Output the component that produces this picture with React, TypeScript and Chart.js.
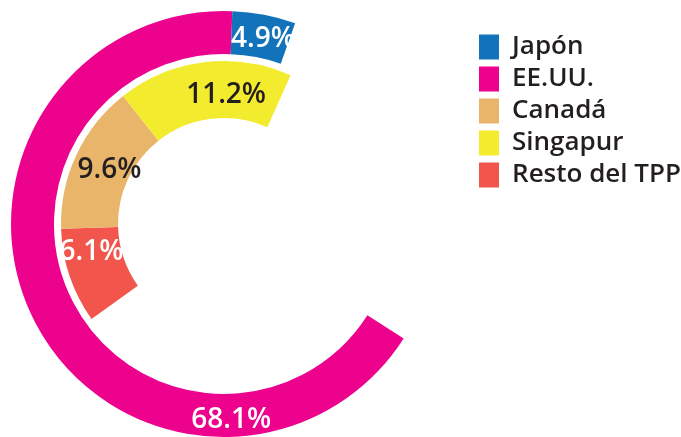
import React, { useEffect, useRef } from "react";
import { Chart, registerables } from "chart.js";

Chart.register(...registerables);

// Data (slice order follows the drawing order of each ring)
const categories = ["EE.UU.", "Japón", "Resto del TPP", "Canadá", "Singapur"];
const outerValues = [68.1, 4.9, 0, 0, 0];
const innerValues = [0, 0, 6.1, 9.6, 11.2];
const legendOrder = ["Japón", "EE.UU.", "Canadá", "Singapur", "Resto del TPP"];

// Styles
const sliceColors = ["#EC028C", "#1273BA", "#F1554B", "#E9B56B", "#F3EB2E"];
const valueTextColors = ["#FFFFFF", "#FFFFFF", "#FFFFFF", "#231F20", "#231F20"];
const valueFrac = [0.231, 0.55, 0.72, 0.52, 0.628];
const valueRadialShift = [3, 0, 0.6, -7, -3];
const FONT = "'Open Sans', Roboto, sans-serif";

const valueLabelPlugin = {
  id: "valueLabels",
  afterDatasetsDraw(chart: any) {
    const ctx = chart.ctx;
    ctx.save();
    ctx.font = `600 28px ${FONT}`;
    ctx.textAlign = "center";
    ctx.textBaseline = "alphabetic";
    chart.data.datasets.forEach((ds: any, di: number) => {
      if (!ds.showValues) return;
      const meta = chart.getDatasetMeta(di);
      meta.data.forEach((arc: any, i: number) => {
        const v = ds.data[i];
        if (!v) return;
        const p = arc.getProps(["x", "y", "startAngle", "endAngle", "innerRadius", "outerRadius"], true);
        const a = p.startAngle + valueFrac[i] * (p.endAngle - p.startAngle);
        const r = (p.innerRadius + p.outerRadius) / 2 + valueRadialShift[i];
        ctx.fillStyle = valueTextColors[i];
        ctx.fillText(v.toFixed(1) + "%", p.x + r * Math.cos(a), p.y + r * Math.sin(a) + 10);
      });
    });
    ctx.restore();
  },
};

export default function App() {
  const canvasRef = useRef<HTMLCanvasElement | null>(null);

  useEffect(() => {
    if (!canvasRef.current) return;
    const chart = new Chart(canvasRef.current, {
      type: "doughnut",
      data: {
        labels: categories,
        datasets: [
          {
            label: "Exterior",
            data: outerValues,
            backgroundColor: sliceColors,
            borderWidth: 0,
            weight: 43,
            rotation: 122.5,
            circumference: 257,
            showValues: true,
          } as any,
          {
            label: "spacer",
            data: [0, 0, 0, 0, 0],
            backgroundColor: "rgba(0,0,0,0)",
            borderWidth: 0,
            weight: 7,
          } as any,
          {
            label: "Interior",
            data: innerValues,
            backgroundColor: sliceColors,
            borderWidth: 0,
            weight: 57,
            rotation: -125.6,
            circumference: 149.7,
            showValues: true,
          } as any,
        ],
      },
      options: {
        animation: false,
        responsive: true,
        maintainAspectRatio: false,
        events: [],
        cutout: 106,
        layout: { padding: { left: 0, top: 11, right: 0, bottom: 0 } },
        plugins: {
          tooltip: { enabled: false },
          legend: {
            position: "right",
            align: "start",
            title: { display: true, text: "", font: { size: 10, lineHeight: 1.2 }, padding: { top: 5, bottom: 0 } },
            labels: {
              boxWidth: 20,
              boxHeight: 25,
              padding: 6,
              color: "#231F20",
              font: { family: FONT, size: 26, weight: 600 },
              generateLabels: () =>
                legendOrder.map((name) => {
                  const idx = categories.indexOf(name);
                  return {
                    text: name,
                    fillStyle: sliceColors[idx],
                    strokeStyle: sliceColors[idx],
                    lineWidth: 0,
                    hidden: false,
                    index: idx,
                    fontColor: "#231F20",
                  };
                }),
            },
          },
        },
      } as any,
      plugins: [valueLabelPlugin],
    });
    return () => chart.destroy();
  }, []);

  return (
    <div style={{ position: "fixed", left: -25, top: 0, width: 716, height: 437, background: "#fff" }}>
      <canvas ref={canvasRef} />
    </div>
  );
}
